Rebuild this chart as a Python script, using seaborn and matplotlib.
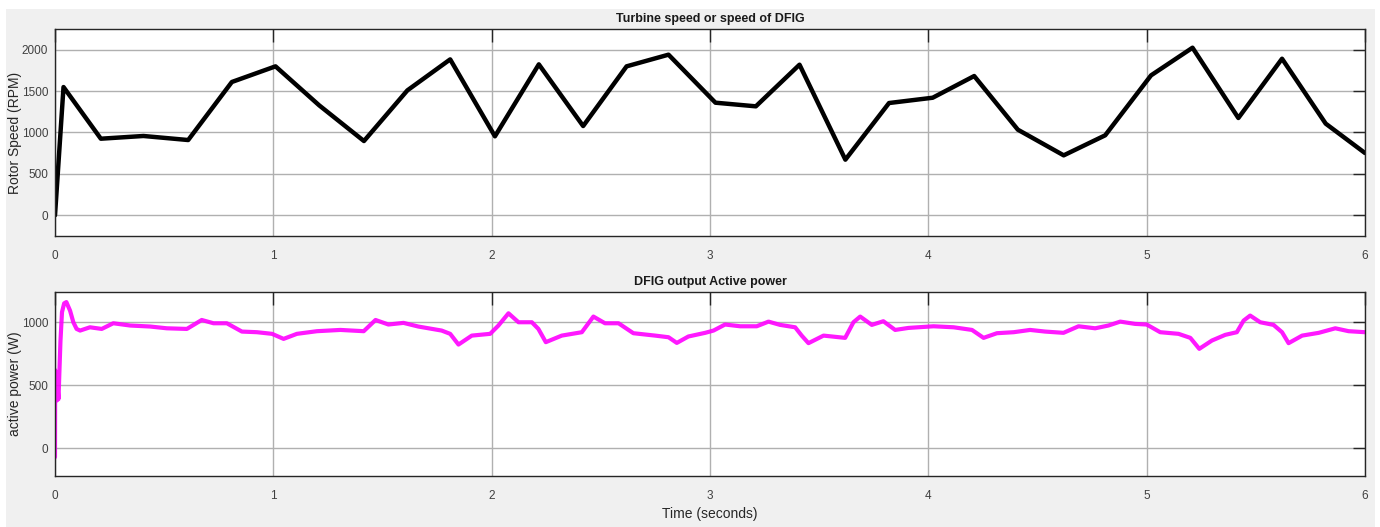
import numpy as np
import pandas as pd
import matplotlib
matplotlib.use("Agg")
import matplotlib.pyplot as plt
from matplotlib.patches import Rectangle
import seaborn as sns

# ---- rotor speed of the DFIG (RPM) ----
speed_time = [0.0, 0.039, 0.21, 0.405, 0.61, 0.81, 1.01, 1.21, 1.415, 1.614, 1.81,
              2.015, 2.216, 2.419, 2.618, 2.81, 3.025, 3.21, 3.41, 3.62, 3.82,
              4.02, 4.21, 4.41, 4.62, 4.81, 5.02, 5.21, 5.42, 5.62, 5.82, 6.0]
speed_rpm = [0, 1549, 925, 958, 909, 1610, 1799, 1328, 897, 1509, 1883,
             954, 1823, 1078, 1799, 1940, 1360, 1316, 1819, 672, 1356,
             1420, 1682, 1034, 724, 966, 1690, 2024, 1175, 1891, 1107, 752]

# ---- DFIG output active power (W) ----
power_time = [0.0, 0.0008, 0.003, 0.006, 0.009, 0.012, 0.016, 0.02, 0.025, 0.032,
              0.042, 0.052, 0.069, 0.084, 0.099, 0.115, 0.16, 0.214, 0.267, 0.344,
              0.436, 0.512, 0.604, 0.672, 0.726, 0.787, 0.856, 0.925, 0.994, 1.047,
              1.108, 1.2, 1.307, 1.414, 1.468, 1.527, 1.596, 1.664, 1.771, 1.81,
              1.848, 1.909, 1.993, 2.031, 2.077, 2.123, 2.184, 2.214, 2.248, 2.321,
              2.413, 2.466, 2.519, 2.581, 2.649, 2.749, 2.81, 2.848, 2.901, 2.978,
              3.016, 3.069, 3.138, 3.214, 3.268, 3.321, 3.39, 3.42, 3.451, 3.52,
              3.619, 3.657, 3.688, 3.741, 3.794, 3.848, 3.909, 4.024, 4.116, 4.2,
              4.253, 4.314, 4.391, 4.466, 4.535, 4.619, 4.688, 4.764, 4.825, 4.879,
              4.947, 5.0, 5.062, 5.146, 5.2, 5.241, 5.299, 5.36, 5.413, 5.444,
              5.474, 5.52, 5.581, 5.62, 5.65, 5.712, 5.788, 5.864, 5.925, 6.0]
power_w = [-70, 620, 380, 520, 380, 480, 390, 600, 850, 1080,
           1150, 1160, 1092, 1000, 947, 934, 960, 947, 992, 974,
           966, 952, 947, 1018, 992, 992, 926, 921, 908, 868,
           908, 929, 939, 929, 1018, 982, 995, 966, 934, 908,
           823, 894, 908, 974, 1071, 1000, 1000, 947, 842, 894,
           921, 1045, 992, 992, 913, 894, 881, 836, 887, 916,
           934, 982, 968, 968, 1005, 979, 960, 894, 834, 894,
           876, 1000, 1045, 979, 1008, 939, 955, 968, 960, 939,
           876, 913, 921, 939, 926, 916, 968, 952, 974, 1005,
           987, 982, 921, 908, 876, 789, 855, 900, 921, 1013,
           1053, 1000, 979, 921, 834, 894, 916, 952, 929, 921]

x_ticks = [0, 1, 2, 3, 4, 5, 6]
speed_ticks = [0, 500, 1000, 1500, 2000]
power_ticks = [0, 500, 1000]

speed_df = pd.DataFrame({"t": speed_time, "rpm": speed_rpm})
power_df = pd.DataFrame({"t": power_time, "w": power_w})

sns.set_theme(style="white")
plt.rcParams["font.family"] = ["Liberation Sans", "DejaVu Sans"]

W, H = 1380, 527
fig = plt.figure(figsize=(W / 100, H / 100), dpi=100)
fig.patch.set_facecolor("white")
fig.add_artist(Rectangle((6 / W, 0), (1375 - 6) / W, (H - 9) / H,
                         transform=fig.transFigure, facecolor="#f0f0f0",
                         edgecolor="none", zorder=0))

ax1 = fig.add_axes([55 / W, 1 - 236 / H, 1310 / W, 207 / H])
ax2 = fig.add_axes([55 / W, 1 - 476 / H, 1310 / W, 184 / H])

sns.lineplot(data=speed_df, x="t", y="rpm", ax=ax1, color="black",
             linewidth=3.2, estimator=None, sort=False)
sns.lineplot(data=power_df, x="t", y="w", ax=ax2, color="#ff00ff",
             linewidth=3.0, estimator=None, sort=False, alpha=0.9)

label_col = "#262626"
tick_col = "#404040"


def style_axes(ax, yticks, ylim, title, ylabel):
    ax.set_facecolor("white")
    ax.set_xlim(0, 6)
    ax.set_ylim(*ylim)
    ax.set_xticks(x_ticks)
    ax.set_xticklabels([str(v) for v in x_ticks])
    ax.set_yticks(yticks)
    ax.set_yticklabels([str(v) for v in yticks])
    ax.grid(True, color="#b0b0b0", linewidth=1.0)
    ax.set_axisbelow(True)
    for s in ax.spines.values():
        s.set_visible(True)
        s.set_color(label_col)
        s.set_linewidth(1.0)
    ax.tick_params(axis="both", direction="in", length=9, width=1.0,
                   color=label_col, labelcolor=tick_col, labelsize=8.5,
                   top=True, right=True)
    ax.tick_params(axis="x", pad=10)
    ax.tick_params(axis="y", pad=5)
    ax.set_title(title, fontsize=9, fontweight="bold", color="#1a1a1a", pad=5)
    ax.set_ylabel(ylabel, fontsize=10, color=label_col)
    ax.yaxis.set_label_coords(-0.0255, 0.5)
    ax.set_xlabel("")


style_axes(ax1, speed_ticks, (-250, 2250), "Turbine speed or speed of DFIG",
           "Rotor Speed (RPM)")
style_axes(ax2, power_ticks, (-220, 1240), "DFIG output Active power",
           "active power (W)")
ax2.set_xlabel("Time (seconds)", fontsize=10, color=label_col, labelpad=4)

fig.savefig("out.png", dpi=100, facecolor=fig.get_facecolor())
